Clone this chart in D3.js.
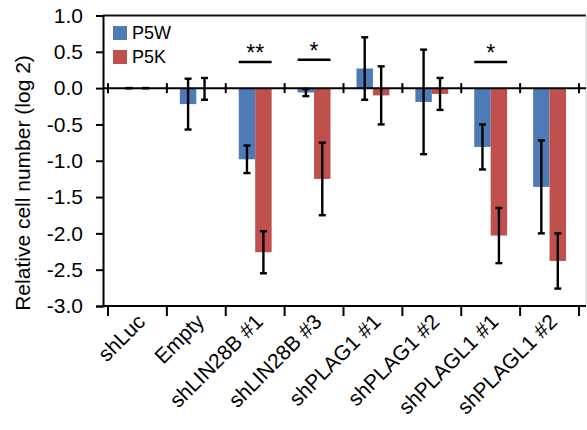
<!DOCTYPE html>
<html>
<head>
<meta charset="utf-8">
<script src="https://cdn.jsdelivr.net/npm/d3@7"></script>
<style>
  body { margin: 0; background: #fff; }
  text { font-family: "Liberation Sans", Arial, sans-serif; fill: #000; }
</style>
</head>
<body>
<div id="chart"></div>
<script>
// Data
const categories = ["shLuc", "Empty", "shLIN28B #1", "shLIN28B #3", "shPLAG1 #1", "shPLAG1 #2", "shPLAGL1 #1", "shPLAGL1 #2"];
const seriesNames = ["P5W", "P5K"];
const p5wValues = [0, -0.22, -0.98, -0.06, 0.27, -0.19, -0.81, -1.36];
const p5wErrors = [0, 0.35, 0.19, 0.05, 0.43, 0.72, 0.31, 0.64];
const p5kValues = [0, -0.01, -2.26, -1.25, -0.10, -0.08, -2.03, -2.38];
const p5kErrors = [0, 0.15, 0.29, 0.50, 0.40, 0.22, 0.38, 0.38];
const yTicks = [1.0, 0.5, 0.0, -0.5, -1.0, -1.5, -2.0, -2.5, -3.0];
const sigCategories = ["shLIN28B #1", "shLIN28B #3", "shPLAGL1 #1"];
const sigLabels = ["**", "*", "*"];
const sigLevels = [0.36, 0.39, 0.36];

const colors = ["#4e7ab5", "#c0504d"];
const width = 587, height = 430;

const svg = d3.select("#chart").append("svg")
  .attr("width", width)
  .attr("height", height);

// Scales
const x = d3.scaleBand().domain(categories).range([108, 579]).paddingInner(0).paddingOuter(0);
const xInner = d3.scaleBand().domain(seriesNames).range([0, x.bandwidth()]).paddingInner(0).paddingOuter(0.79);
const y = d3.scaleLinear().domain([-3, 1]).range([306, 15.5]);

// Build rows for the bars
const rows = [];
categories.forEach((c, i) => {
  rows.push({ cat: c, s: "P5W", v: p5wValues[i], e: p5wErrors[i], color: colors[0] });
  rows.push({ cat: c, s: "P5K", v: p5kValues[i], e: p5kErrors[i], color: colors[1] });
});

// Frame: top border and thin right border
svg.append("line")
  .attr("x1", 103).attr("x2", 586)
  .attr("y1", y(1)).attr("y2", y(1))
  .attr("stroke", "#111").attr("stroke-width", 2.2);
svg.append("line")
  .attr("x1", 586).attr("x2", 586)
  .attr("y1", y(1)).attr("y2", y(-3))
  .attr("stroke", "#ccc").attr("stroke-width", 1);

// Bars
svg.selectAll(".bar")
  .data(rows)
  .enter()
  .append("rect")
  .attr("class", "bar")
  .attr("x", d => x(d.cat) + xInner(d.s))
  .attr("width", xInner.bandwidth())
  .attr("y", d => y(Math.max(0, d.v)))
  .attr("height", d => Math.abs(y(d.v) - y(0)))
  .attr("fill", d => d.color);

// Zero line with crossing ticks
svg.append("line")
  .attr("x1", 103).attr("x2", 586)
  .attr("y1", y(0)).attr("y2", y(0))
  .attr("stroke", "#000").attr("stroke-width", 2);
const boundaries = categories.map(c => x(c)).concat([x.range()[1]]);
svg.selectAll(".zt")
  .data(boundaries)
  .enter()
  .append("line")
  .attr("x1", d => d).attr("x2", d => d)
  .attr("y1", y(0) - 5).attr("y2", y(0) + 5)
  .attr("stroke", "#000").attr("stroke-width", 2);

// Error bars
const eb = svg.selectAll(".err")
  .data(rows)
  .enter()
  .append("g")
  .attr("class", "err")
  .attr("transform", d => `translate(${x(d.cat) + xInner(d.s) + xInner.bandwidth() / 2},0)`);
eb.append("line")
  .attr("y1", d => y(d.v + d.e)).attr("y2", d => y(d.v - d.e))
  .attr("stroke", "#000").attr("stroke-width", 2.4);
eb.append("line")
  .attr("x1", -3.5).attr("x2", 3.5)
  .attr("y1", d => y(d.v + d.e)).attr("y2", d => y(d.v + d.e))
  .attr("stroke", "#000").attr("stroke-width", 2.4);
eb.append("line")
  .attr("x1", -3.5).attr("x2", 3.5)
  .attr("y1", d => y(d.v - d.e)).attr("y2", d => y(d.v - d.e))
  .attr("stroke", "#000").attr("stroke-width", 2.4);

// Y axis
const yAxis = d3.axisLeft(y)
  .tickValues(yTicks)
  .tickSize(7)
  .tickPadding(13)
  .tickFormat(d3.format(".1f"));
const gy = svg.append("g")
  .attr("transform", "translate(103,0)")
  .call(yAxis);
gy.select(".domain").attr("stroke", "#000").attr("stroke-width", 2);
gy.selectAll(".tick line").attr("stroke", "#000").attr("stroke-width", 2);
gy.selectAll(".tick text")
  .attr("font-size", 21)
  .text(d => d3.format(".1f")(d).replace("−", "-"));

// X axis at the bottom
const gx = svg.append("g")
  .attr("transform", `translate(0,${y(-3)})`);
gx.append("line")
  .attr("x1", 103).attr("x2", 586)
  .attr("stroke", "#000").attr("stroke-width", 2.2);
gx.selectAll(".xt")
  .data(boundaries)
  .enter()
  .append("line")
  .attr("x1", d => d).attr("x2", d => d)
  .attr("y1", 0).attr("y2", 10)
  .attr("stroke", "#000").attr("stroke-width", 2);
gx.selectAll(".xl")
  .data(categories)
  .enter()
  .append("text")
  .attr("transform", d => `translate(${x(d) + x.bandwidth() / 2 + 9},${17}) rotate(-45)`)
  .attr("text-anchor", "end")
  .attr("font-size", 21)
  .text(d => d);

// Y axis title
svg.append("text")
  .attr("transform", "translate(30,183) rotate(-90)")
  .attr("text-anchor", "middle")
  .attr("font-size", 21)
  .text("Relative cell number (log 2)");

// Significance markers
sigCategories.forEach((c, i) => {
  const x0 = x(c) + xInner("P5W");
  const x1 = x(c) + xInner("P5K") + xInner.bandwidth();
  svg.append("line")
    .attr("x1", x0).attr("x2", x1)
    .attr("y1", y(sigLevels[i])).attr("y2", y(sigLevels[i]))
    .attr("stroke", "#000").attr("stroke-width", 2.5);
  svg.append("text")
    .attr("x", (x0 + x1) / 2)
    .attr("y", y(sigLevels[i]) - 1)
    .attr("text-anchor", "middle")
    .attr("font-size", 23)
    .text(sigLabels[i]);
});

// Legend
const legend = svg.selectAll(".leg")
  .data(seriesNames)
  .enter()
  .append("g")
  .attr("class", "leg")
  .attr("transform", (d, i) => `translate(113,${26 + i * 24})`);
legend.append("rect")
  .attr("width", 14).attr("height", 14)
  .attr("fill", (d, i) => colors[i]);
legend.append("text")
  .attr("x", 19).attr("y", 13)
  .attr("font-size", 18)
  .text(d => d);
</script>
</body>
</html>
